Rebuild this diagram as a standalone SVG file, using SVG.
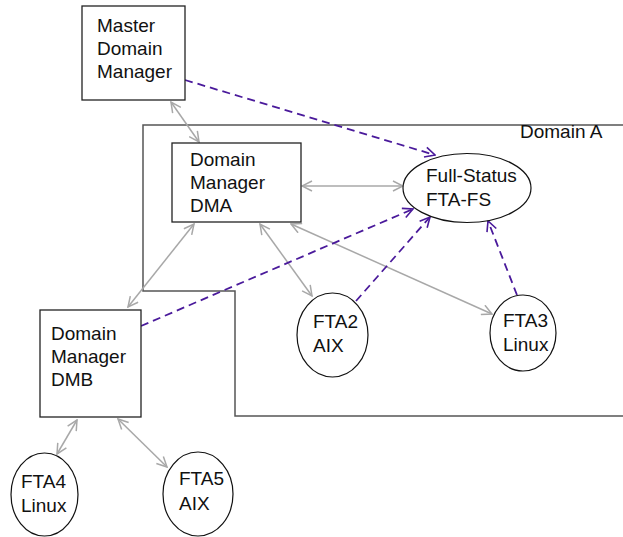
<svg xmlns="http://www.w3.org/2000/svg" width="623" height="537" viewBox="0 0 623 537">
<style>
.box{fill:#fff;stroke:#222;stroke-width:1.3}
.ell{fill:#fff;stroke:#111;stroke-width:1.2}
.t{font-family:"Liberation Sans",Arial,sans-serif;font-size:19px;fill:#111}
.dom{fill:none;stroke:#555;stroke-width:1.5}
.g{fill:none;stroke:#a8a8a8;stroke-width:1.5;marker-start:url(#ga);marker-end:url(#ga)}
.p{fill:none;stroke:#4a1a9b;stroke-width:1.8;stroke-dasharray:8 5;marker-end:url(#pa)}
</style>
<defs>
<marker id="ga" viewBox="0 0 12 12" refX="11" refY="6" markerWidth="12" markerHeight="12" markerUnits="userSpaceOnUse" orient="auto-start-reverse">
<path d="M1,1 L11,6 L1,11" fill="none" stroke="#a8a8a8" stroke-width="1.5"/>
</marker>
<marker id="pa" viewBox="0 0 12 12" refX="11" refY="6" markerWidth="12" markerHeight="12" markerUnits="userSpaceOnUse" orient="auto">
<path d="M1,1 L11,6 L1,11" fill="none" stroke="#4a1a9b" stroke-width="1.6"/>
</marker>
</defs>
<rect width="623" height="537" fill="#fff"/>
<g id="domainA">
<path class="dom" d="M623,125 H143 V291 H235 V416 H623"/>
<text class="t" x="520" y="138">Domain A</text>
</g>
<g id="connectors">
<line class="g" x1="171" y1="102" x2="199" y2="142"/>
<line class="g" x1="302" y1="186" x2="403" y2="186"/>
<line class="g" x1="194" y1="224" x2="128" y2="307"/>
<line class="g" x1="260" y1="224" x2="312" y2="296"/>
<line class="g" x1="291" y1="224" x2="492" y2="314"/>
<line class="g" x1="77" y1="420" x2="57" y2="454"/>
<line class="g" x1="118" y1="419" x2="167" y2="467"/>
<line class="p" x1="185" y1="80" x2="435" y2="155"/>
<line class="p" x1="141" y1="326" x2="413" y2="209"/>
<line class="p" x1="356" y1="301" x2="430" y2="217"/>
<line class="p" x1="517" y1="295" x2="488" y2="221"/>
</g>
<g id="master">
<rect class="box" x="82" y="6" width="103" height="94"/>
<text class="t" x="97" y="32">Master</text>
<text class="t" x="97" y="55">Domain</text>
<text class="t" x="97" y="78">Manager</text>
</g>
<g id="dma">
<rect class="box" x="172" y="143" width="129" height="79"/>
<text class="t" x="190" y="166">Domain</text>
<text class="t" x="190" y="189">Manager</text>
<text class="t" x="190" y="212">DMA</text>
</g>
<g id="fullstatus">
<ellipse class="ell" cx="467" cy="188" rx="64" ry="34.5"/>
<text class="t" x="426" y="182">Full-Status</text>
<text class="t" x="426" y="206">FTA-FS</text>
</g>
<g id="dmb">
<rect class="box" x="40" y="310" width="101" height="107"/>
<text class="t" x="51" y="340">Domain</text>
<text class="t" x="51" y="363">Manager</text>
<text class="t" x="51" y="386">DMB</text>
</g>
<g id="fta2">
<ellipse class="ell" cx="332.5" cy="335" rx="35.5" ry="42"/>
<text class="t" x="313" y="328">FTA2</text>
<text class="t" x="313" y="352">AIX</text>
</g>
<g id="fta3">
<ellipse class="ell" cx="523" cy="333" rx="33" ry="38"/>
<text class="t" x="503" y="327">FTA3</text>
<text class="t" x="503" y="351">Linux</text>
</g>
<g id="fta4">
<ellipse class="ell" cx="44.5" cy="494.5" rx="33.5" ry="41.5"/>
<text class="t" x="21" y="488">FTA4</text>
<text class="t" x="21" y="512">Linux</text>
</g>
<g id="fta5">
<ellipse class="ell" cx="198" cy="494" rx="35" ry="42"/>
<text class="t" x="179" y="485">FTA5</text>
<text class="t" x="179" y="510">AIX</text>
</g>
</svg>
